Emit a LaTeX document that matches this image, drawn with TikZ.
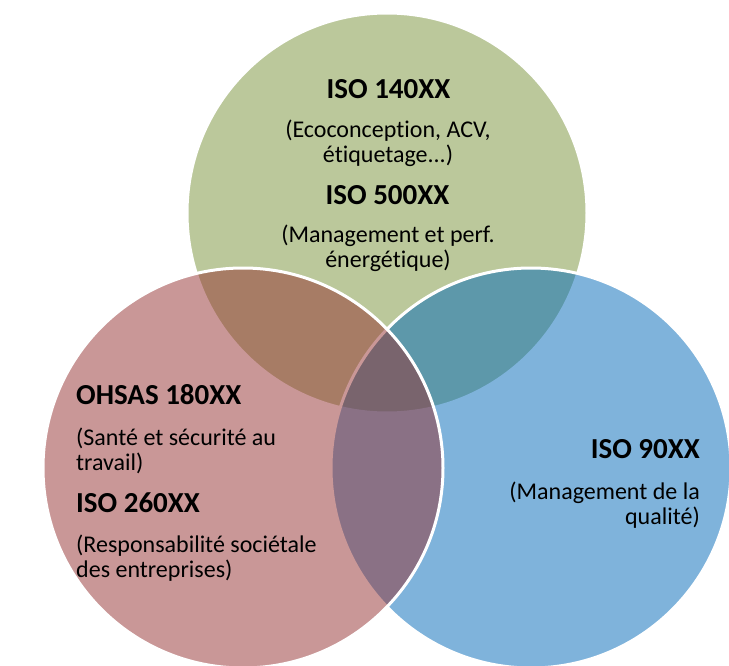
\documentclass[tikz,border=0pt]{standalone}
\usepackage{fontspec}
\setmainfont{Carlito}[Ligatures=NoCommon]
\definecolor{cg}{RGB}{121,147,57}
\definecolor{cb}{RGB}{0,105,185}
\definecolor{cp}{RGB}{149,49,49}
\begin{document}
\begin{tikzpicture}[x=1pt,y=-1pt,
  circ/.style={draw=white, line width=3pt, fill opacity=0.5},
  head/.style={inner sep=0pt, font=\fontsize{29}{32}\selectfont\bfseries},
  desc/.style={inner sep=0pt, font=\fontsize{24}{25}\selectfont}]
\fill[white] (0,0) rectangle (729,666);
\useasboundingbox (0,0) rectangle (729,666);
\path[circ, fill=cg] (387,213) circle[radius=200];
\path[circ, fill=cb] (531,468) circle[radius=200];
\path[circ, fill=cp] (243,468) circle[radius=200];
\node[head] (h1) at (388.5,89) {ISO 140XX};
\node[desc, align=center] (d1) at (388,143.5) {(Ecoconception, ACV,\\étiquetage...)};
\node[head] (h2) at (387.5,195) {ISO 500XX};
\node[desc, align=center] (d2) at (388,248.5) {(Management et perf.\\énergétique)};
\node[head, anchor=west] (h3) at (76,395) {OHSAS 180XX};
\node[desc, align=left, anchor=west] (d3) at (76,451) {(Santé et sécurité au\\travail)};
\node[head, anchor=west] (h4) at (76,503) {ISO 260XX};
\node[desc, align=left, anchor=west] (d4) at (76,558.5) {(Responsabilité sociétale\\des entreprises)};
\node[head, anchor=east] (h5) at (700,449) {ISO 90XX};
\node[desc, align=right, anchor=east] (d5) at (700,505.5) {(Management de la\\qualité)};
\end{tikzpicture}
\end{document}
